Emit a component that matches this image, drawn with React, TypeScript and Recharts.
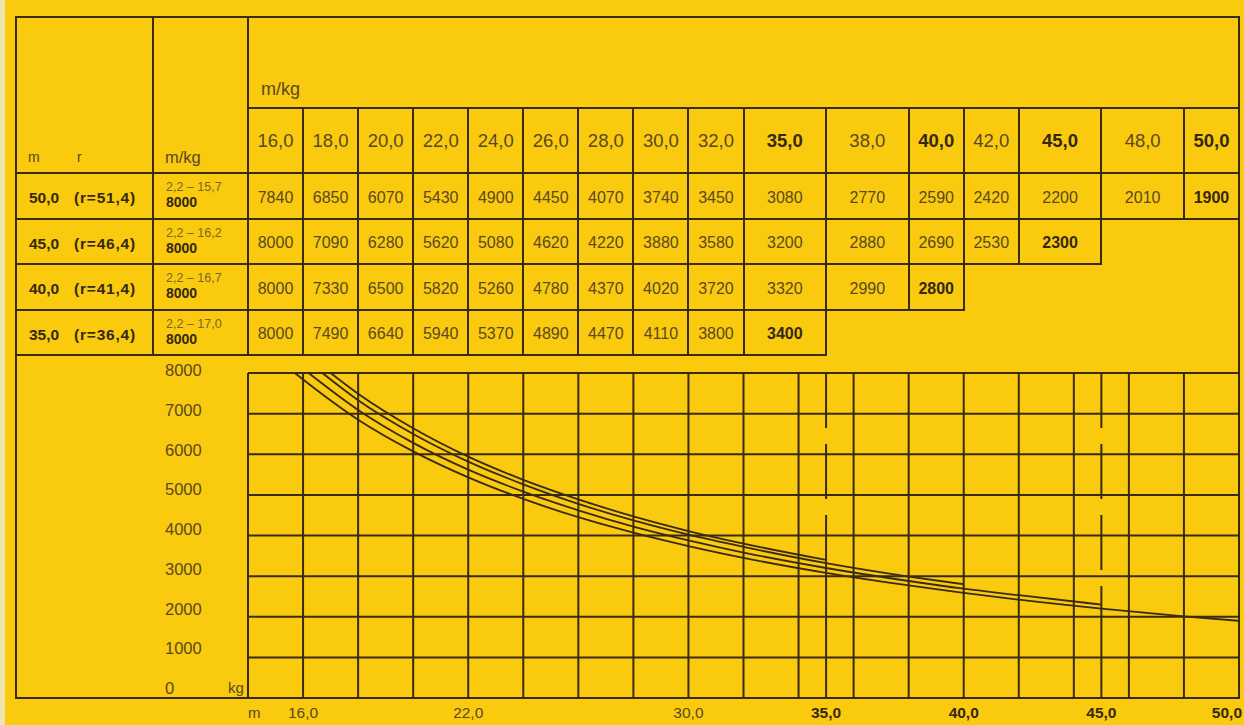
import React from 'react';
import { LineChart, Line, XAxis, YAxis, ReferenceLine } from 'recharts';

// radius columns (m) of the load table
const radii = [16, 18, 20, 22, 24, 26, 28, 30, 32, 35, 38, 40, 42, 45, 48, 50];
// boom lengths (m) and their reach
const boomLengths = [50, 45, 40, 35];
const reachLabels = ['51,4', '46,4', '41,4', '36,4'];
// radius range with full load
const minRadius = 2.2;
const fullLoadRadius = [15.7, 16.2, 16.7, 17.0];
const fullLoad = 8000;

// loads (kg) per boom length, one value per radius column
const loads50 = [7840, 6850, 6070, 5430, 4900, 4450, 4070, 3740, 3450, 3080, 2770, 2590, 2420, 2200, 2010, 1900];
const loads45 = [8000, 7090, 6280, 5620, 5080, 4620, 4220, 3880, 3580, 3200, 2880, 2690, 2530, 2300];
const loads40 = [8000, 7330, 6500, 5820, 5260, 4780, 4370, 4020, 3720, 3320, 2990, 2800];
const loads35 = [8000, 7490, 6640, 5940, 5370, 4890, 4470, 4110, 3800, 3400];
const loadRows = [loads50, loads45, loads40, loads35];

// chart axes
const gridRadii = [14, 16, 18, 20, 22, 24, 26, 28, 30, 32, 34, 36, 38, 40, 42, 44, 46, 48, 50];
const xTickLabels = [16, 22, 30, 35, 40, 45, 50];
const yTicks = [0, 1000, 2000, 3000, 4000, 5000, 6000, 7000, 8000];
const X_MIN = 14;
const X_MAX = 50;

const YELLOW = '#F9CA0E';
const LINE = '#3A2A14';
const TEXT = '#5A4820';
const BOLD = '#35280F';
const FONT = "'Liberation Sans', Arial, sans-serif";

// layout
const W = 1244;
const H = 725;
const FRAME_L = 16;
const FRAME_T = 17;
const COL1 = 153;
const PLOT_L = 248;
const PLOT_R = 1239;
const PLOT_T = 373;
const PLOT_B = 698;
const HEAD_MID = 108;
const HEAD_BOT = 173;
const ROW_H = 45.5;

const fmt = (v: number) => v.toFixed(1).replace('.', ',');
const px = (v: number) => PLOT_L + ((v - X_MIN) / (X_MAX - X_MIN)) * (PLOT_R - PLOT_L);
const rowTop = (i: number) => HEAD_BOT + i * ROW_H;

const curves = loadRows.map((row, i) => [
    { r: fullLoadRadius[i], kg: fullLoad },
    ...row.map((kg, j) => ({ r: radii[j], kg })).filter(p => p.r > fullLoadRadius[i]),
]);

const HLine = ({ x0, x1, y }: { x0: number; x1: number; y: number }) => (
    <div style={{ position: 'absolute', left: x0 - 1, top: y - 1, width: x1 - x0 + 2, height: 2, background: LINE }} />
);
const VLine = ({ x, y0, y1 }: { x: number; y0: number; y1: number }) => (
    <div style={{ position: 'absolute', left: x - 1, top: y0 - 1, width: 2, height: y1 - y0 + 2, background: LINE }} />
);

const Cell = ({ x0, x1, y0, y1, children, bold, size = 16 }: any) => (
    <div style={{
        position: 'absolute', left: x0, top: y0, width: x1 - x0, height: y1 - y0,
        display: 'flex', alignItems: 'center', justifyContent: 'center',
        fontSize: size, fontWeight: bold ? 700 : 400, color: bold ? BOLD : TEXT,
    }}>
        {children}
    </div>
);

const XTick = (props: any) => {
    const { x, y, payload } = props;
    const v = payload.value as number;
    const last = v === X_MAX;
    const bold = boomLengths.includes(v);
    return (
        <text x={last ? x + 3 : x} y={y + 14} textAnchor={last ? 'end' : 'middle'} dominantBaseline="central"
            fontSize={15.5} fontFamily={FONT} fontWeight={bold ? 700 : 400} fill={bold ? BOLD : TEXT}>
            {fmt(v)}
        </text>
    );
};

const YTick = (props: any) => {
    const { x, y, payload } = props;
    const v = payload.value as number;
    return (
        <text x={x - 83} y={y - 10 + (7 * v) / fullLoad} textAnchor="start" dominantBaseline="central"
            fontSize={16.5} fontFamily={FONT} fill={TEXT}>
            {v}
        </text>
    );
};

export default function App() {
    const colLeft = (j: number) => px(j === 0 ? X_MIN : radii[j - 1]);

    return (
        <div style={{ position: 'absolute', left: 0, top: 0, width: W, height: H, background: YELLOW, fontFamily: FONT, overflow: 'hidden' }}>
            <div style={{ position: 'absolute', left: 0, top: 0, width: 5, height: H, background: '#F1E3AE' }} />

            {/* outer frame */}
            <HLine x0={FRAME_L} x1={PLOT_R} y={FRAME_T} />
            <HLine x0={FRAME_L} x1={PLOT_R} y={PLOT_B} />
            <VLine x={FRAME_L} y0={FRAME_T} y1={PLOT_B} />
            <VLine x={PLOT_R} y0={FRAME_T} y1={PLOT_B} />

            {/* table grid */}
            <VLine x={COL1} y0={FRAME_T} y1={rowTop(boomLengths.length)} />
            <VLine x={PLOT_L} y0={FRAME_T} y1={rowTop(boomLengths.length)} />
            <HLine x0={PLOT_L} x1={PLOT_R} y={HEAD_MID} />
            <HLine x0={FRAME_L} x1={PLOT_R} y={HEAD_BOT} />
            {boomLengths.map((b, i) => (
                <HLine key={'rb' + i} x0={FRAME_L} x1={px(b)} y={rowTop(i + 1)} />
            ))}
            {radii.slice(0, -1).map(r => {
                const deepest = boomLengths.filter(b => b >= r).length;
                return <VLine key={'cv' + r} x={px(r)} y0={HEAD_MID} y1={rowTop(deepest)} />;
            })}

            {/* header texts */}
            <div style={{ position: 'absolute', left: 261, top: 79, fontSize: 18, color: TEXT }}>m/kg</div>
            <div style={{ position: 'absolute', left: 28, top: 149, fontSize: 14, color: TEXT }}>m</div>
            <div style={{ position: 'absolute', left: 77, top: 149, fontSize: 14, color: TEXT }}>r</div>
            <div style={{ position: 'absolute', left: 165, top: 148, fontSize: 16.5, color: TEXT }}>m/kg</div>
            {radii.map((r, j) => (
                <Cell key={'h' + r} x0={colLeft(j)} x1={px(r)} y0={HEAD_MID} y1={HEAD_BOT} size={18.5} bold={boomLengths.includes(r)}>
                    {fmt(r)}
                </Cell>
            ))}

            {/* rows */}
            {boomLengths.map((b, i) => (
                <React.Fragment key={'row' + b}>
                    <div style={{ position: 'absolute', left: 29, top: rowTop(i) + 16, fontSize: 15.5, fontWeight: 700, color: BOLD, whiteSpace: 'pre' }}>
                        {fmt(b)}
                    </div>
                    <div style={{ position: 'absolute', left: 74, top: rowTop(i) + 16, fontSize: 15.5, fontWeight: 700, color: BOLD, whiteSpace: 'pre', letterSpacing: 0.8 }}>
                        {'(r=' + reachLabels[i] + ')'}
                    </div>
                    <div style={{ position: 'absolute', left: 166, top: rowTop(i) + 7, fontSize: 12.5, color: '#7E6428', whiteSpace: 'pre', lineHeight: '14px' }}>
                        {fmt(minRadius) + ' – ' + fmt(fullLoadRadius[i])}
                    </div>
                    <div style={{ position: 'absolute', left: 166, top: rowTop(i) + 22, fontSize: 14, fontWeight: 700, color: BOLD, lineHeight: '14px' }}>
                        {fullLoad}
                    </div>
                    {loadRows[i].map((kg, j) => (
                        <Cell key={'v' + j} x0={colLeft(j)} x1={px(radii[j])} y0={rowTop(i) + 2} y1={rowTop(i + 1) + 2}
                            size={16} bold={j === loadRows[i].length - 1}>
                            {kg}
                        </Cell>
                    ))}
                </React.Fragment>
            ))}

            {/* axis units */}
            <div style={{ position: 'absolute', left: 228, top: 679, fontSize: 15, color: TEXT }}>kg</div>
            <div style={{ position: 'absolute', left: 248, top: 704, fontSize: 15, color: TEXT }}>m</div>

            <div style={{ position: 'absolute', left: 0, top: 0 }}>
                <LineChart width={W} height={H} margin={{ top: PLOT_T, right: W - PLOT_R, bottom: 0, left: 0 }}>
                    <XAxis type="number" dataKey="r" domain={[X_MIN, X_MAX]} ticks={xTickLabels} allowDataOverflow
                        height={H - PLOT_B} axisLine={false} tickLine={false} tickSize={0} tickMargin={0}
                        tick={(p: any) => <XTick {...p} />} interval={0} />
                    <YAxis type="number" domain={[0, fullLoad]} ticks={yTicks} width={PLOT_L}
                        axisLine={false} tickLine={false} tickSize={0} tickMargin={0}
                        tick={(p: any) => <YTick {...p} />} interval={0} />
                    {yTicks.map(v => (
                        <ReferenceLine key={'gy' + v} y={v} stroke={LINE} strokeWidth={2} />
                    ))}
                    {gridRadii.map(v => (
                        <ReferenceLine key={'gx' + v} x={v} stroke={LINE} strokeWidth={2} />
                    ))}
                    {[boomLengths[1], boomLengths[3]].map(b => {
                        const i = boomLengths.indexOf(b);
                        const endKg = loadRows[i][loadRows[i].length - 1];
                        return (
                            <React.Fragment key={'end' + b}>
                                <ReferenceLine segment={[{ x: b, y: fullLoad }, { x: b, y: endKg }]}
                                    stroke={LINE} strokeWidth={2} strokeDasharray="55 16" />
                                <ReferenceLine segment={[{ x: b, y: endKg }, { x: b, y: 0 }]}
                                    stroke={LINE} strokeWidth={2} />
                            </React.Fragment>
                        );
                    })}
                    {curves.map((c, i) => (
                        <Line key={'c' + i} data={c} dataKey="kg" type="monotone" stroke={LINE} strokeWidth={1.8}
                            dot={false} activeDot={false} isAnimationActive={false} />
                    ))}
                </LineChart>
            </div>
        </div>
    );
}
